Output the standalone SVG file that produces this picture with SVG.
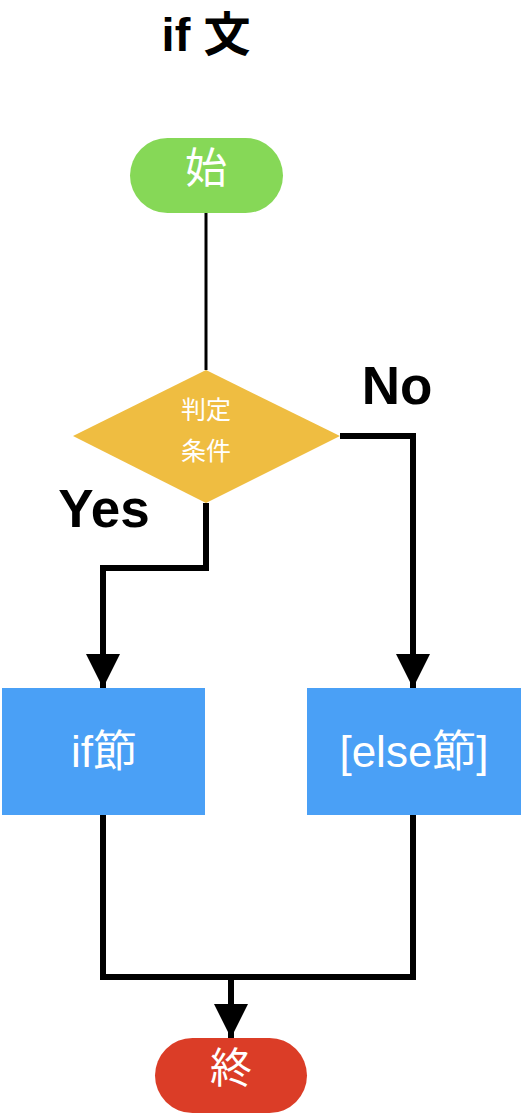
<svg xmlns="http://www.w3.org/2000/svg" width="524" height="1116" viewBox="0 0 524 1116">
<style>
.t{font-family:"Liberation Sans","Noto Sans CJK JP",sans-serif;}
.w{fill:#fff;}
.b{fill:#000;font-weight:bold;}
.c{fill:none;stroke:#000;stroke-width:6;stroke-linejoin:miter;}
</style>
<defs>
<marker id="ah" markerUnits="userSpaceOnUse" markerWidth="34" markerHeight="34" refX="34" refY="17" orient="auto" viewBox="0 0 34 34">
<path d="M0,0 L34,17 L0,34 Z" fill="#000"/>
</marker>
</defs>
<rect width="524" height="1116" fill="#fff"/>
<text class="t b" x="206" y="51" font-size="47" text-anchor="middle">if 文</text>
<g id="connectors">
<line x1="206" y1="213" x2="206" y2="370" stroke="#000" stroke-width="3"/>
<polyline class="c" points="340,436 413,436 413,688" marker-end="url(#ah)"/>
<polyline class="c" points="206,503 206,568 103,568 103,688" marker-end="url(#ah)"/>
<polyline class="c" points="103,815 103,977 413,977 413,815"/>
<line class="c" x1="231" y1="977" x2="231" y2="1038" marker-end="url(#ah)"/>
<text class="t b" x="397" y="404" font-size="53" text-anchor="middle">No</text>
<text class="t b" x="104" y="527" font-size="53" text-anchor="middle">Yes</text>
</g>
<g id="start">
<rect x="130" y="138" width="153" height="75" rx="37.5" fill="#86D857"/>
<text class="t w" x="206" y="183" font-size="42" text-anchor="middle">始</text>
</g>
<g id="decision">
<polygon points="206,370 340,436 206,503 73,436" fill="#EFBD41"/>
<text class="t w" x="206" y="419" font-size="25" text-anchor="middle">判定</text>
<text class="t w" x="206" y="460" font-size="25" text-anchor="middle">条件</text>
</g>
<g id="ifblock">
<rect x="2" y="688" width="203" height="127" fill="#4AA0F6"/>
<text class="t w" x="104" y="767" font-size="44" text-anchor="middle">if節</text>
</g>
<g id="elseblock">
<rect x="307" y="688" width="214" height="127" fill="#4AA0F6"/>
<text class="t w" x="414" y="767" font-size="44" text-anchor="middle">[else節]</text>
</g>
<g id="end">
<rect x="155" y="1038" width="152" height="75" rx="37.5" fill="#DB3D27"/>
<text class="t w" x="231" y="1083" font-size="42" text-anchor="middle">終</text>
</g>
</svg>
